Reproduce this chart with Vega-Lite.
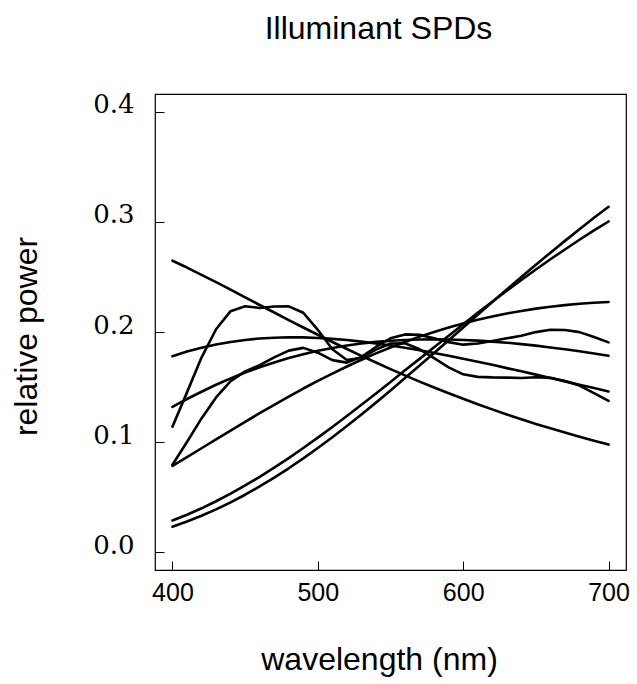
{
"$schema": "https://vega.github.io/schema/vega-lite/v6.json",
"width": 471, "height": 476,
"autosize": {"type": "none"},
"padding": {"left": 155, "top": 94, "right": 11, "bottom": 114},
"background": "white",
"config": {"view": {"stroke": "black", "strokeWidth": 1.2}},
"title": {"text": "Illuminant SPDs", "font": "Liberation Sans", "fontSize": 32, "fontWeight": "normal", "color": "black", "anchor": "middle", "frame": "group", "offset": 21, "dx": -12, "baseline": "alphabetic"},
"data": {"values": [
{"nm":400,"s":"A","v":0.0233},{"nm":410,"s":"A","v":0.0280},{"nm":420,"s":"A","v":0.0332},{"nm":430,"s":"A","v":0.0390},{"nm":440,"s":"A","v":0.0454},{"nm":450,"s":"A","v":0.0523},{"nm":460,"s":"A","v":0.0598},{"nm":470,"s":"A","v":0.0678},{"nm":480,"s":"A","v":0.0763},{"nm":490,"s":"A","v":0.0853},{"nm":500,"s":"A","v":0.0947},{"nm":510,"s":"A","v":0.1045},{"nm":520,"s":"A","v":0.1147},{"nm":530,"s":"A","v":0.1252},{"nm":540,"s":"A","v":0.1359},{"nm":550,"s":"A","v":0.1469},{"nm":560,"s":"A","v":0.1582},{"nm":570,"s":"A","v":0.1695},{"nm":580,"s":"A","v":0.1810},{"nm":590,"s":"A","v":0.1925},{"nm":600,"s":"A","v":0.2041},{"nm":610,"s":"A","v":0.2157},{"nm":620,"s":"A","v":0.2272},{"nm":630,"s":"A","v":0.2386},{"nm":640,"s":"A","v":0.2499},{"nm":650,"s":"A","v":0.2610},{"nm":660,"s":"A","v":0.2720},{"nm":670,"s":"A","v":0.2827},{"nm":680,"s":"A","v":0.2933},{"nm":690,"s":"A","v":0.3036},{"nm":700,"s":"A","v":0.3136},
{"nm":400,"s":"BB3000","v":0.0289},{"nm":410,"s":"BB3000","v":0.0342},{"nm":420,"s":"BB3000","v":0.0400},{"nm":430,"s":"BB3000","v":0.0464},{"nm":440,"s":"BB3000","v":0.0533},{"nm":450,"s":"BB3000","v":0.0607},{"nm":460,"s":"BB3000","v":0.0686},{"nm":470,"s":"BB3000","v":0.0769},{"nm":480,"s":"BB3000","v":0.0856},{"nm":490,"s":"BB3000","v":0.0947},{"nm":500,"s":"BB3000","v":0.1041},{"nm":510,"s":"BB3000","v":0.1138},{"nm":520,"s":"BB3000","v":0.1238},{"nm":530,"s":"BB3000","v":0.1339},{"nm":540,"s":"BB3000","v":0.1442},{"nm":550,"s":"BB3000","v":0.1546},{"nm":560,"s":"BB3000","v":0.1652},{"nm":570,"s":"BB3000","v":0.1756},{"nm":580,"s":"BB3000","v":0.1862},{"nm":590,"s":"BB3000","v":0.1966},{"nm":600,"s":"BB3000","v":0.2070},{"nm":610,"s":"BB3000","v":0.2174},{"nm":620,"s":"BB3000","v":0.2275},{"nm":630,"s":"BB3000","v":0.2374},{"nm":640,"s":"BB3000","v":0.2472},{"nm":650,"s":"BB3000","v":0.2567},{"nm":660,"s":"BB3000","v":0.2660},{"nm":670,"s":"BB3000","v":0.2749},{"nm":680,"s":"BB3000","v":0.2837},{"nm":690,"s":"BB3000","v":0.2922},{"nm":700,"s":"BB3000","v":0.3003},
{"nm":400,"s":"BB4000","v":0.0786},{"nm":410,"s":"BB4000","v":0.0865},{"nm":420,"s":"BB4000","v":0.0945},{"nm":430,"s":"BB4000","v":0.1025},{"nm":440,"s":"BB4000","v":0.1105},{"nm":450,"s":"BB4000","v":0.1185},{"nm":460,"s":"BB4000","v":0.1263},{"nm":470,"s":"BB4000","v":0.1339},{"nm":480,"s":"BB4000","v":0.1414},{"nm":490,"s":"BB4000","v":0.1487},{"nm":500,"s":"BB4000","v":0.1556},{"nm":510,"s":"BB4000","v":0.1623},{"nm":520,"s":"BB4000","v":0.1687},{"nm":530,"s":"BB4000","v":0.1748},{"nm":540,"s":"BB4000","v":0.1806},{"nm":550,"s":"BB4000","v":0.1860},{"nm":560,"s":"BB4000","v":0.1910},{"nm":570,"s":"BB4000","v":0.1958},{"nm":580,"s":"BB4000","v":0.2001},{"nm":590,"s":"BB4000","v":0.2041},{"nm":600,"s":"BB4000","v":0.2078},{"nm":610,"s":"BB4000","v":0.2111},{"nm":620,"s":"BB4000","v":0.2141},{"nm":630,"s":"BB4000","v":0.2168},{"nm":640,"s":"BB4000","v":0.2191},{"nm":650,"s":"BB4000","v":0.2212},{"nm":660,"s":"BB4000","v":0.2229},{"nm":670,"s":"BB4000","v":0.2244},{"nm":680,"s":"BB4000","v":0.2256},{"nm":690,"s":"BB4000","v":0.2265},{"nm":700,"s":"BB4000","v":0.2272},
{"nm":400,"s":"BB5000","v":0.1321},{"nm":410,"s":"BB5000","v":0.1392},{"nm":420,"s":"BB5000","v":0.1458},{"nm":430,"s":"BB5000","v":0.1521},{"nm":440,"s":"BB5000","v":0.1579},{"nm":450,"s":"BB5000","v":0.1632},{"nm":460,"s":"BB5000","v":0.1680},{"nm":470,"s":"BB5000","v":0.1724},{"nm":480,"s":"BB5000","v":0.1764},{"nm":490,"s":"BB5000","v":0.1799},{"nm":500,"s":"BB5000","v":0.1829},{"nm":510,"s":"BB5000","v":0.1855},{"nm":520,"s":"BB5000","v":0.1878},{"nm":530,"s":"BB5000","v":0.1896},{"nm":540,"s":"BB5000","v":0.1910},{"nm":550,"s":"BB5000","v":0.1921},{"nm":560,"s":"BB5000","v":0.1928},{"nm":570,"s":"BB5000","v":0.1932},{"nm":580,"s":"BB5000","v":0.1934},{"nm":590,"s":"BB5000","v":0.1932},{"nm":600,"s":"BB5000","v":0.1928},{"nm":610,"s":"BB5000","v":0.1922},{"nm":620,"s":"BB5000","v":0.1913},{"nm":630,"s":"BB5000","v":0.1903},{"nm":640,"s":"BB5000","v":0.1890},{"nm":650,"s":"BB5000","v":0.1876},{"nm":660,"s":"BB5000","v":0.1860},{"nm":670,"s":"BB5000","v":0.1843},{"nm":680,"s":"BB5000","v":0.1825},{"nm":690,"s":"BB5000","v":0.1805},{"nm":700,"s":"BB5000","v":0.1785},
{"nm":400,"s":"BB6000","v":0.1780},{"nm":410,"s":"BB6000","v":0.1822},{"nm":420,"s":"BB6000","v":0.1857},{"nm":430,"s":"BB6000","v":0.1887},{"nm":440,"s":"BB6000","v":0.1910},{"nm":450,"s":"BB6000","v":0.1928},{"nm":460,"s":"BB6000","v":0.1941},{"nm":470,"s":"BB6000","v":0.1948},{"nm":480,"s":"BB6000","v":0.1952},{"nm":490,"s":"BB6000","v":0.1951},{"nm":500,"s":"BB6000","v":0.1946},{"nm":510,"s":"BB6000","v":0.1938},{"nm":520,"s":"BB6000","v":0.1927},{"nm":530,"s":"BB6000","v":0.1913},{"nm":540,"s":"BB6000","v":0.1896},{"nm":550,"s":"BB6000","v":0.1877},{"nm":560,"s":"BB6000","v":0.1857},{"nm":570,"s":"BB6000","v":0.1834},{"nm":580,"s":"BB6000","v":0.1810},{"nm":590,"s":"BB6000","v":0.1784},{"nm":600,"s":"BB6000","v":0.1757},{"nm":610,"s":"BB6000","v":0.1730},{"nm":620,"s":"BB6000","v":0.1702},{"nm":630,"s":"BB6000","v":0.1672},{"nm":640,"s":"BB6000","v":0.1643},{"nm":650,"s":"BB6000","v":0.1613},{"nm":660,"s":"BB6000","v":0.1582},{"nm":670,"s":"BB6000","v":0.1552},{"nm":680,"s":"BB6000","v":0.1521},{"nm":690,"s":"BB6000","v":0.1491},{"nm":700,"s":"BB6000","v":0.1460},
{"nm":400,"s":"BB9000","v":0.2647},{"nm":410,"s":"BB9000","v":0.2585},{"nm":420,"s":"BB9000","v":0.2519},{"nm":430,"s":"BB9000","v":0.2452},{"nm":440,"s":"BB9000","v":0.2384},{"nm":450,"s":"BB9000","v":0.2315},{"nm":460,"s":"BB9000","v":0.2245},{"nm":470,"s":"BB9000","v":0.2177},{"nm":480,"s":"BB9000","v":0.2108},{"nm":490,"s":"BB9000","v":0.2041},{"nm":500,"s":"BB9000","v":0.1975},{"nm":510,"s":"BB9000","v":0.1909},{"nm":520,"s":"BB9000","v":0.1846},{"nm":530,"s":"BB9000","v":0.1783},{"nm":540,"s":"BB9000","v":0.1723},{"nm":550,"s":"BB9000","v":0.1663},{"nm":560,"s":"BB9000","v":0.1606},{"nm":570,"s":"BB9000","v":0.1550},{"nm":580,"s":"BB9000","v":0.1497},{"nm":590,"s":"BB9000","v":0.1444},{"nm":600,"s":"BB9000","v":0.1394},{"nm":610,"s":"BB9000","v":0.1345},{"nm":620,"s":"BB9000","v":0.1298},{"nm":630,"s":"BB9000","v":0.1252},{"nm":640,"s":"BB9000","v":0.1209},{"nm":650,"s":"BB9000","v":0.1166},{"nm":660,"s":"BB9000","v":0.1126},{"nm":670,"s":"BB9000","v":0.1087},{"nm":680,"s":"BB9000","v":0.1049},{"nm":690,"s":"BB9000","v":0.1012},{"nm":700,"s":"BB9000","v":0.0978},
{"nm":400,"s":"B","v":0.0795},{"nm":410,"s":"B","v":0.1002},{"nm":420,"s":"B","v":0.1216},{"nm":430,"s":"B","v":0.1406},{"nm":440,"s":"B","v":0.1554},{"nm":450,"s":"B","v":0.1643},{"nm":460,"s":"B","v":0.1699},{"nm":470,"s":"B","v":0.1770},{"nm":480,"s":"B","v":0.1831},{"nm":490,"s":"B","v":0.1856},{"nm":500,"s":"B","v":0.1812},{"nm":510,"s":"B","v":0.1745},{"nm":520,"s":"B","v":0.1722},{"nm":530,"s":"B","v":0.1774},{"nm":540,"s":"B","v":0.1864},{"nm":550,"s":"B","v":0.1943},{"nm":560,"s":"B","v":0.1978},{"nm":570,"s":"B","v":0.1974},{"nm":580,"s":"B","v":0.1943},{"nm":590,"s":"B","v":0.1908},{"nm":600,"s":"B","v":0.1885},{"nm":610,"s":"B","v":0.1895},{"nm":620,"s":"B","v":0.1918},{"nm":630,"s":"B","v":0.1943},{"nm":640,"s":"B","v":0.1966},{"nm":650,"s":"B","v":0.1999},{"nm":660,"s":"B","v":0.2020},{"nm":670,"s":"B","v":0.2018},{"nm":680,"s":"B","v":0.1999},{"nm":690,"s":"B","v":0.1955},{"nm":700,"s":"B","v":0.1906},
{"nm":400,"s":"C","v":0.1141},{"nm":410,"s":"C","v":0.1452},{"nm":420,"s":"C","v":0.1768},{"nm":430,"s":"C","v":0.2025},{"nm":440,"s":"C","v":0.2189},{"nm":450,"s":"C","v":0.2234},{"nm":460,"s":"C","v":0.2218},{"nm":470,"s":"C","v":0.2231},{"nm":480,"s":"C","v":0.2233},{"nm":490,"s":"C","v":0.2175},{"nm":500,"s":"C","v":0.2020},{"nm":510,"s":"C","v":0.1843},{"nm":520,"s":"C","v":0.1746},{"nm":530,"s":"C","v":0.1766},{"nm":540,"s":"C","v":0.1840},{"nm":550,"s":"C","v":0.1896},{"nm":560,"s":"C","v":0.1898},{"nm":570,"s":"C","v":0.1843},{"nm":580,"s":"C","v":0.1762},{"nm":590,"s":"C","v":0.1679},{"nm":600,"s":"C","v":0.1616},{"nm":610,"s":"C","v":0.1593},{"nm":620,"s":"C","v":0.1588},{"nm":630,"s":"C","v":0.1586},{"nm":640,"s":"C","v":0.1582},{"nm":650,"s":"C","v":0.1589},{"nm":660,"s":"C","v":0.1584},{"nm":670,"s":"C","v":0.1555},{"nm":680,"s":"C","v":0.1514},{"nm":690,"s":"C","v":0.1445},{"nm":700,"s":"C","v":0.1375}
]},
"mark": {"type": "line", "color": "black", "strokeWidth": 2.6, "strokeCap": "round", "strokeJoin": "round"},
"encoding": {
 "x": {"field": "nm", "type": "quantitative",
   "scale": {"domain": [388, 712], "nice": false, "zero": false},
   "axis": {"values": [400, 500, 600, 700], "domain": false, "grid": false, "tickSize": -9, "tickColor": "black", "tickWidth": 1,
     "labelFont": "Liberation Sans", "labelFontSize": 25, "labelColor": "black", "labelPadding": 19, "labelFlush": false, "labelOverlap": false, "labelBound": false,
     "title": "wavelength (nm)", "titleFont": "Liberation Sans", "titleFontSize": 32, "titleFontWeight": "normal", "titleColor": "black",
     "titleX": 224, "titleY": 99, "titleBaseline": "alphabetic", "titleAlign": "center"}},
 "y": {"field": "v", "type": "quantitative",
   "scale": {"domain": [-0.016, 0.416], "nice": false, "zero": false},
   "axis": {"values": [0, 0.1, 0.2, 0.3, 0.4], "format": ".1f", "domain": false, "grid": false, "tickSize": -9, "tickColor": "black", "tickWidth": 1,
     "labelFont": "DejaVu Serif", "labelFontSize": 26, "labelColor": "black", "labelPadding": 30, "labelOffset": -7, "labelFlush": false, "labelOverlap": false, "labelBound": false,
     "title": "relative power", "titleFont": "Liberation Sans", "titleFontSize": 32, "titleFontWeight": "normal", "titleColor": "black",
     "titleX": -119, "titleY": 242, "titleAngle": 270, "titleBaseline": "alphabetic", "titleAlign": "center"}},
 "detail": {"field": "s", "type": "nominal"}
}
}
